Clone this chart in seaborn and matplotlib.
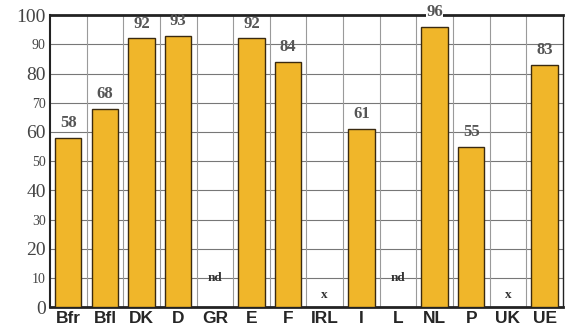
import numpy as np
import pandas as pd
import seaborn as sns
import matplotlib.pyplot as plt

countries = ['Bfr', 'Bfl', 'DK', 'D', 'GR', 'E', 'F', 'IRL', 'I', 'L', 'NL', 'P', 'UK', 'UE']
values = [58, 68, 92, 93, np.nan, 92, 84, np.nan, 61, np.nan, 96, 55, np.nan, 83]
missing = {'GR': 'nd', 'IRL': 'x', 'L': 'nd', 'UK': 'x'}

df = pd.DataFrame({'country': countries, 'value': values})

sns.set_style('white')
fig = plt.figure(figsize=(5.68, 3.36), dpi=100)
ax = fig.add_axes([0.088, 0.086, 0.903, 0.869])

sns.barplot(data=df, x='country', y='value', color='#F0B62A', saturation=1,
            width=0.72, edgecolor='#3a2a10', linewidth=1.0, ax=ax, zorder=3)

ax.set_ylim(0, 100)
ax.set_xlim(-0.5, len(countries) - 0.5)
ax.set_yticks(range(0, 101, 10))
ax.set_xticks(np.arange(len(countries)))
ax.set_xticklabels(countries, fontfamily='Liberation Sans', fontweight='bold', fontsize=12.5)
for lab in ax.get_yticklabels():
    lab.set_fontfamily('Liberation Serif')
    lab.set_color('#444444')
    v = int(lab.get_text().replace('\u2212', '-'))
    lab.set_fontsize(14 if v % 20 == 0 else 10)
ax.set_xlabel('')
ax.set_ylabel('')

# grid: horizontal at each 10, vertical at category borders
for yv in range(10, 100, 10):
    ax.axhline(yv, color='#777777', lw=0.8, zorder=1)
for xv in np.arange(0.5, len(countries) - 0.5, 1):
    ax.axvline(xv, color='#9a9a9a', lw=0.8, zorder=1)

for side in ['left', 'bottom', 'top', 'right']:
    ax.spines[side].set_color('#222222')
ax.spines['left'].set_linewidth(1.5)
ax.spines['bottom'].set_linewidth(2)
ax.spines['top'].set_linewidth(2)
ax.spines['right'].set_linewidth(1)
ax.tick_params(axis='both', length=0, pad=3)

for i, (c, v) in enumerate(zip(countries, values)):
    if np.isnan(v):
        txt = missing[c]
        yy = 10 if txt == 'nd' else 4
        ax.text(i, yy, txt, ha='center', va='center', fontsize=9.5, fontweight='bold',
                fontfamily='Liberation Serif', color='#333333', zorder=4)
    else:
        ax.text(i, v + 2.3, f'{int(v)}', ha='center', va='bottom', fontsize=12,
                fontfamily='Liberation Serif', color='#555555', zorder=4,
                fontweight='bold',
                bbox=dict(facecolor='white', edgecolor='none', pad=0) if v > 95 else None)

fig.savefig('out.png', dpi=100)
